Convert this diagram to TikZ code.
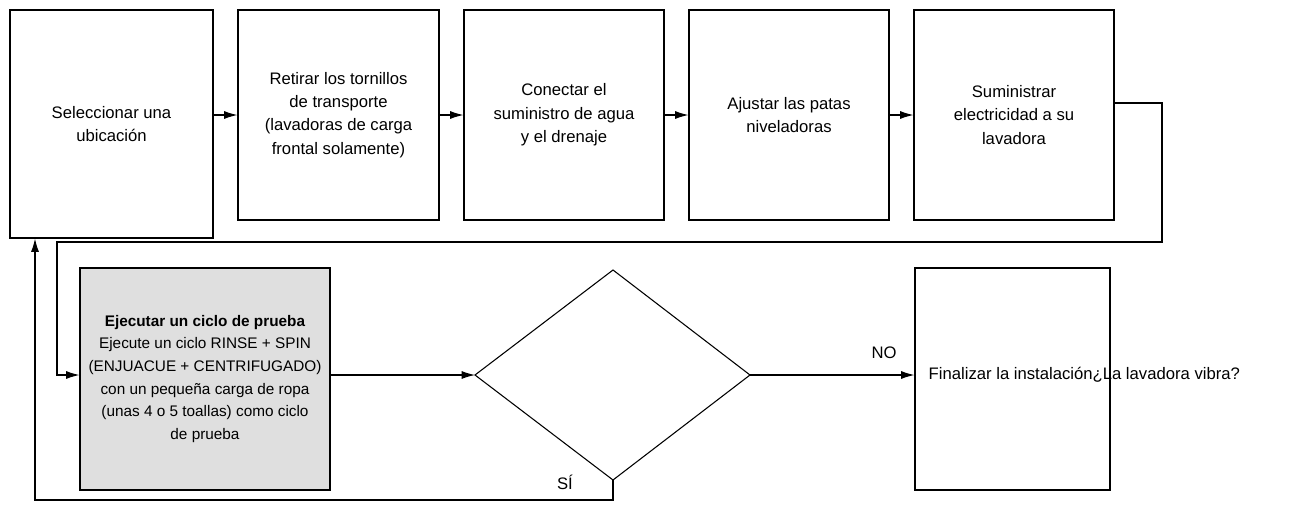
\documentclass[tikz,border=0pt]{standalone}
\usepackage{fontspec}
\setmainfont{Liberation Sans}
\usetikzlibrary{arrows.meta}
\begin{document}
\begin{tikzpicture}[x=0.75pt,y=-0.75pt,
  box/.style={draw,line width=0.8pt,align=center,font=\fontsize{12.5}{17.5}\selectfont},
  conn/.style={line width=0.8pt,-{Latex[length=10pt,width=6pt]}},
  lbl/.style={font=\fontsize{12.5}{14}\selectfont}]
\useasboundingbox (0,0) rectangle (1304,504);
\node[box,minimum width=203*0.75pt,minimum height=228*0.75pt] (b1) at (111.5,124) {Seleccionar una\\ubicación};
\node[box,minimum width=201*0.75pt,minimum height=210*0.75pt] (b2) at (338.5,115) {Retirar los tornillos\\de transporte\\(lavadoras de carga\\frontal solamente)};
\node[box,minimum width=200*0.75pt,minimum height=210*0.75pt] (b3) at (564,115) {Conectar el\\suministro de agua\\y el drenaje};
\node[box,minimum width=200*0.75pt,minimum height=210*0.75pt] (b4) at (789,115) {Ajustar las patas\\niveladoras};
\node[box,minimum width=200*0.75pt,minimum height=210*0.75pt] (b5) at (1014,115) {Suministrar\\electricidad a su\\lavadora};
\node[box,fill=gray!25,minimum width=250*0.75pt,minimum height=222*0.75pt,font=\fontsize{11.5}{17}\selectfont] (g) at (205,379) {\textbf{Ejecutar un ciclo de prueba}\\Ejecute un ciclo RINSE + SPIN\\(ENJUACUE + CENTRIFUGADO)\\con un pequeña carga de ropa\\(unas 4 o 5 toallas) como ciclo\\de prueba};
\coordinate (dl) at (475,375); \coordinate (dr) at (750,375);
\coordinate (dt) at (613,270); \coordinate (db) at (613,480);
\draw[line width=0.8pt] (dl) -- (dt) -- (dr) -- (db) -- cycle;
\node[box,minimum width=195*0.75pt,minimum height=222*0.75pt] (f) at (1012.5,379) {};
\node[lbl,anchor=west] (ft) at (924,375) {Finalizar la instalación¿La lavadora vibra?};
\draw[conn] (b1.east |- 0,115) -- (b2.west);
\draw[conn] (b2) -- (b3);
\draw[conn] (b3) -- (b4);
\draw[conn] (b4) -- (b5);
\coordinate (c1) at (1162,103); \coordinate (c2) at (1162,242);
\coordinate (c3) at (57,242); \coordinate (c4) at (57,375);
\draw[conn] (b5.east |- c1) -- (c1) -- (c2) -- (c3) -- (c4) -- (g.west |- c4);
\draw[conn] (g.east |- dl) -- (dl);
\draw[conn] (dr) -- (f.west |- dr);
\node[lbl] (no) at (884,353) {NO};
\coordinate (e1) at (613,500); \coordinate (e2) at (35,500);
\draw[conn] (db) -- (e1) -- (e2) -- (b1.south -| e2);
\node[lbl] (si) at (565,482) {SÍ};
\end{tikzpicture}
\end{document}
